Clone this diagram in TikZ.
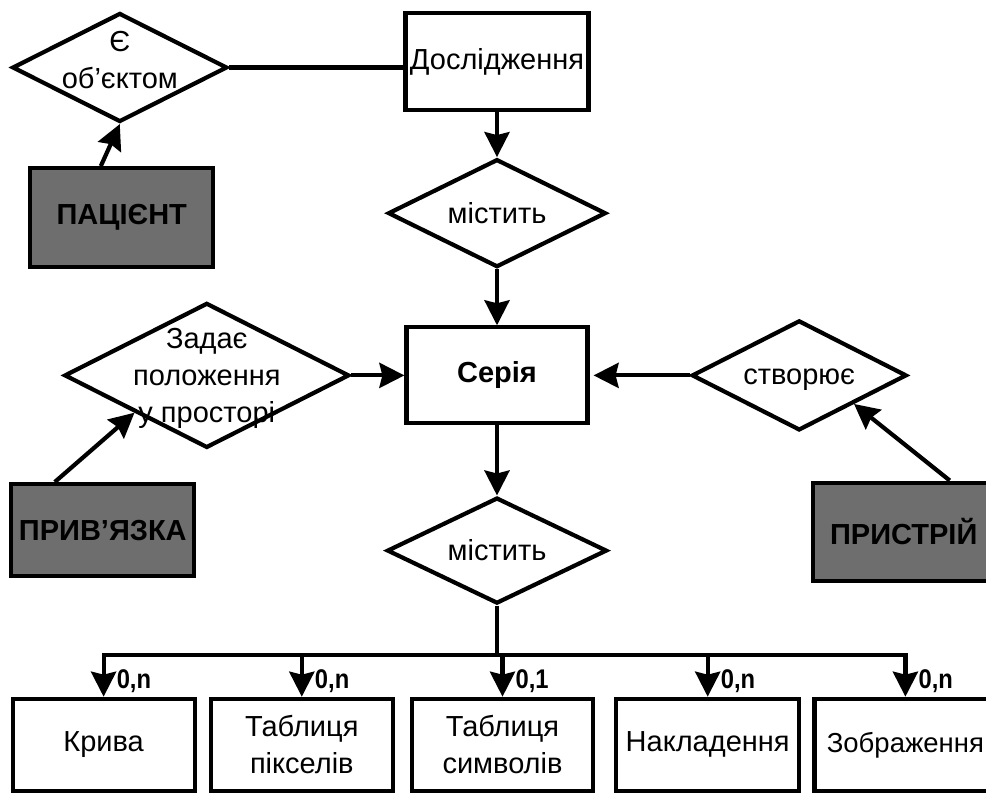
\documentclass[tikz,border=0pt]{standalone}
\usepackage{fontspec}
\setmainfont{Liberation Sans}
\usetikzlibrary{positioning,shapes.geometric,arrows.meta}
\definecolor{entgray}{RGB}{110,110,110}
\newcommand{\erfont}{\fontsize{29}{37}\selectfont}

\begin{document}
\begin{tikzpicture}[x=1pt, y=-1pt,
		entity/.style={draw, line width=4.2pt, align=center, inner sep=2pt,
								minimum width=182pt, minimum height=97pt, font=\erfont},
		outer/.style={entity, fill=entgray, font=\erfont\bfseries},
		relation/.style={draw, diamond, line width=4.2pt, inner sep=0pt,
								minimum width=218pt, minimum height=108pt},
		reltext/.style={align=center, font=\erfont},
		link/.style={line width=4.2pt},
		arrow/.style={link, -{Stealth[length=25pt, width=25pt, inset=3pt]}},
		card/.style={anchor=base west, inner sep=0pt, xscale=0.88,
								font=\fontsize{27}{30}\selectfont\bfseries},
	]
		\useasboundingbox (0,0) rectangle (986,794);

		% центральна колонка
		\node[entity, minimum width=183pt] (study) at (497,61.5) {Дослідження};
		\node[relation, label={[reltext]center:містить}, below=45pt of study] (contains) {};
		\node[entity, font=\erfont\bfseries, minimum width=181pt, minimum height=96pt,
			below=56pt of contains] (series) {Серія};
		\node[relation, label={[reltext]center:містить}, minimum width=220pt, minimum height=106pt,
			below=70pt of series] (contents) {};

		% пацієнт
		\node[relation, label={[reltext, yshift=7pt]center:{Є\\об’єктом}},
			minimum width=215pt, minimum height=109pt,
			left=174pt of study, yshift=-6pt] (isobject) {};
		\node[outer, minimum width=183pt, minimum height=99pt,
			below=42pt of isobject, xshift=2pt] (patient) {ПАЦІЄНТ};

		% прив'язка
		\node[relation, label={[reltext, yshift=-3pt]center:{Задає\\положення\\у просторі}},
			minimum width=285pt, minimum height=145pt,
			left=53pt of series] (placement) {};
		\node[outer, minimum width=183pt, minimum height=92pt,
			below=32pt of placement, xshift=-104pt] (binding) {ПРИВ’ЯЗКА};

		% пристрій
		\node[relation, label={[reltext, yshift=-4pt]center:створює},
			minimum width=215pt, minimum height=110pt,
			right=100pt of series] (creates) {};
		\node[outer, minimum width=182pt, minimum height=98pt,
			below=48pt of creates, xshift=104.5pt] (device) {ПРИСТРІЙ};

		% нижній ряд
		\node[entity, minimum width=181pt, minimum height=92pt,
			below=91pt of contents, xshift=5.5pt] (symbols) {Таблиця\\символів};
		\node[entity, minimum height=92pt, left=15pt of symbols] (pixels) {Таблиця\\пікселів};
		\node[entity, minimum height=92pt, left=12pt of pixels] (curve) {Крива};
		\node[entity, minimum width=183pt, minimum height=92pt, right=19pt of symbols] (overlay)
			{Накладення};
		\node[entity, font=\fontsize{27.5}{37}\selectfont, minimum height=92pt,
			right=11pt of overlay] (image) {Зображення};

		% зв'язки
		\draw[link] (isobject.east) -- (isobject.east -| study.west);
		\draw[arrow] ([xshift=-21pt]patient.north) -- (isobject.south);
		\draw[arrow] (study) -- (contains);
		\draw[arrow] (contains) -- (series);
		\draw[arrow] (placement.east) -- (placement.east -| series.west);
		\draw[arrow] ([xshift=-48pt]binding.north) -- (placement.south west);
		\draw[arrow] (creates.west) -- ([xshift=4pt]creates.west -| series.east);
		\draw[arrow] ([xshift=46pt]device.north) -- (creates.south east);
		\draw[arrow] (series) -- (contents);

		% шина до нижнього ряду
		\coordinate (bus) at (497,655);
		\draw[link] (contents.south) -- (contents.south |- bus);
		\draw[link, line cap=rect] (curve.north |- bus) -- (image.north |- bus);
		\foreach \n/\c in {curve/{0,n}, pixels/{0,n}, symbols/{0,1}, overlay/{0,n}, image/{0,n}} {
			\draw[arrow] (\n.north |- bus) -- (\n.north);
			\node[card] at ([xshift=13pt, yshift=8pt]\n.north) {\c};
		}
	\end{tikzpicture}
\end{document}
